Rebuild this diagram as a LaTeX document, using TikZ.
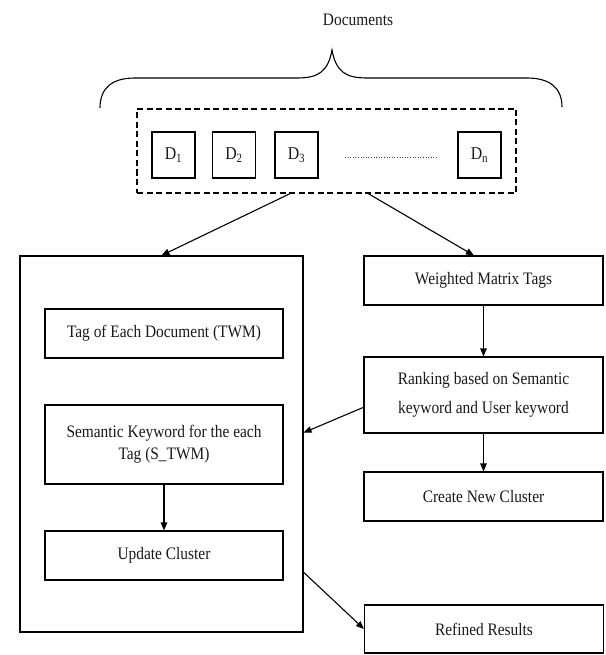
\documentclass[tikz,border=0pt]{standalone}
\usepackage{fontspec}
\setmainfont[FakeStretch=0.88]{Liberation Serif}
\usetikzlibrary{arrows.meta,calc}
\begin{document}
\begin{tikzpicture}[x=1pt,y=-1pt,
  box/.style={draw,line width=1.1pt,inner sep=0pt,align=center,
    font=\fontsize{17.5}{22}\selectfont,text=black!90},
  dbox/.style={draw,line width=1.1pt,inner sep=0pt,minimum width=43pt,minimum height=46pt,
    font=\fontsize{18}{20}\selectfont,text=black!90},
  arr/.style={line width=1.1pt,-{Triangle[length=8pt,width=6.5pt]}},
  lbl/.style={font=\fontsize{17.5}{20}\selectfont,text=black!90,inner sep=0pt}]
\useasboundingbox (0,0) rectangle (605,655);
\node[lbl] (docs) at (358,20) {Documents};
% brace
\draw[line width=1.1pt] (100,108) .. controls (100,88) and (112,78) .. (135,78)
  -- (297,78) .. controls (318,78) and (328,72) .. (332,50)
  .. controls (336,72) and (346,78) .. (367,78) -- (527,78)
  .. controls (550,78) and (562,88) .. (562,107);
% dashed container
\node[draw,line width=1.3pt,dash pattern=on 6pt off 3.5pt,minimum width=379pt,minimum height=84pt,inner sep=0pt] (dash) at (326.5,151) {};
\node[dbox] (d1) at (173.5,155) {D\textsubscript{1}};
\node[dbox] (d2) at (234,155) {D\textsubscript{2}};
\node[dbox] (d3) at (296.5,155) {D\textsubscript{3}};
\node[dbox] (dn) at (479.5,155) {D\textsubscript{n}};
\coordinate (dots1) at (345,157);
\coordinate (dots2) at (437,157);
\draw[line width=0.6pt,dotted,black!70] (dots1) -- (dots2);
% left big box
\node[draw,line width=1.1pt,minimum width=283pt,minimum height=376pt,inner sep=0pt] (big) at (161.5,444) {};
\node[box,minimum width=238pt,minimum height=49pt] (tag) at (164,333.5) {Tag of Each Document (TWM)};
\node[box,minimum width=238pt,minimum height=79pt] (sem) at (164,444.5) {Semantic Keyword for the each\\Tag (S\_TWM)};
\node[box,minimum width=238pt,minimum height=49pt] (upd) at (164,555.5) {Update Cluster};
% right column
\node[box,minimum width=239pt,minimum height=49pt] (wmt) at (483.5,280.5) {Weighted Matrix Tags};
\node[box,minimum width=239pt,minimum height=76pt,font=\fontsize{17.5}{29}\selectfont] (rank) at (483.5,395) {Ranking based on Semantic\\keyword and User keyword};
\node[box,minimum width=239pt,minimum height=49pt] (cnc) at (483.5,496.5) {Create New Cluster};
\node[box,minimum width=239pt,minimum height=48pt] (ref) at (484,629) {Refined Results};
% connectors
\draw[arr] ($(dash.south west)!0.404!(dash.south east)$) -- (big.north);
\draw[arr] ($(dash.south west)!0.61!(dash.south east)$) -- ($(wmt.north west)!0.46!(wmt.north east)$);
\draw[arr] (wmt) -- (rank);
\draw[arr] (rank) -- (cnc);
\draw[arr] (sem) -- (upd);
\draw[arr] ($(rank.north west)!0.66!(rank.south west)$) -- ($(big.north east)!0.47!(big.south east)$);
\draw[arr] ($(big.north east)!0.84!(big.south east)$) -- (ref.west);
\end{tikzpicture}
\end{document}
